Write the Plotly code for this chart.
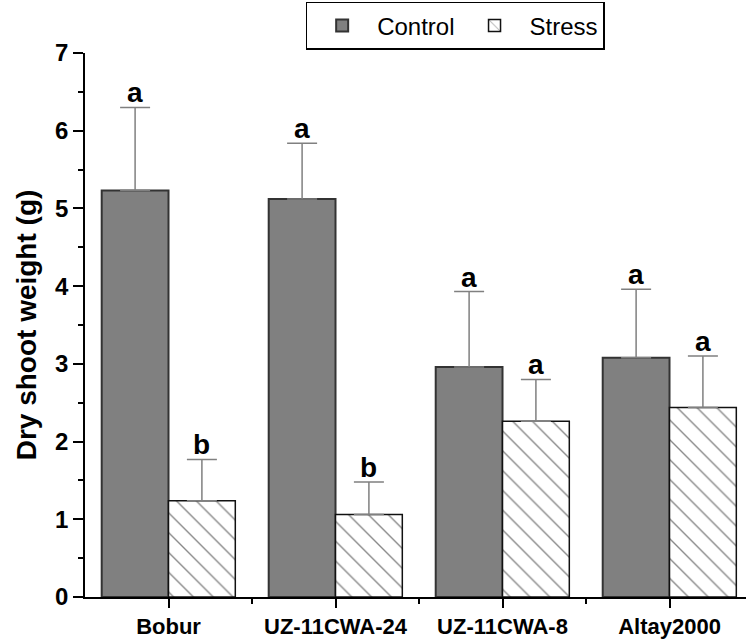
import plotly.graph_objects as go

genotypes = ["Bobur", "UZ-11CWA-24", "UZ-11CWA-8", "Altay2000"]
control_mean = [5.23, 5.12, 2.96, 3.08]
control_err = [1.07, 0.72, 0.97, 0.88]
stress_mean = [1.24, 1.06, 2.26, 2.44]
stress_err = [0.53, 0.42, 0.54, 0.66]
control_letters = ["a", "a", "a", "a"]
stress_letters = ["b", "b", "a", "a"]

xpos = list(range(len(genotypes)))
FONT = "Liberation Sans, Arial, sans-serif"

fig = go.Figure()
fig.add_trace(go.Bar(
    x=xpos, y=control_mean, name="Control",
    marker=dict(color="#808080", line=dict(color="#333333", width=2)),
    error_y=dict(type="data", array=control_err, arrayminus=[0]*4, symmetric=False,
                 color="#808080", thickness=1.5, width=15),
))
fig.add_trace(go.Bar(
    x=xpos, y=stress_mean, name="Stress",
    marker=dict(color="white", line=dict(color="#111111", width=1.5),
                pattern=dict(shape="\\", fgcolor="#111111", bgcolor="white", size=14, solidity=0.1)),
    error_y=dict(type="data", array=stress_err, arrayminus=[0]*4, symmetric=False,
                 color="#808080", thickness=1.5, width=15),
))

for i in xpos:
    fig.add_annotation(x=i - 0.2, y=control_mean[i] + control_err[i], text=control_letters[i],
                       showarrow=False, yanchor="bottom", yshift=-3,
                       font=dict(family=FONT, size=28, color="black", weight="bold"))
    fig.add_annotation(x=i + 0.2, y=stress_mean[i] + stress_err[i], text=stress_letters[i],
                       showarrow=False, yanchor="bottom", yshift=-3,
                       font=dict(family=FONT, size=28, color="black", weight="bold"))

fig.update_layout(
    width=746, height=639,
    margin=dict(l=85, r=0, t=53, b=42),
    plot_bgcolor="white", paper_bgcolor="white",
    barmode="group", bargap=0.2, bargroupgap=0,
    font=dict(family=FONT, color="black"),
    showlegend=True,
    legend=dict(orientation="h", x=0.56, xanchor="center", y=1.094, yanchor="top",
                bordercolor="black", borderwidth=1.5, bgcolor="white",
                font=dict(family=FONT, size=24, color="black"),
                itemwidth=60, traceorder="normal"),
    xaxis=dict(range=[-0.5, 3.458], tickmode="array", tickvals=xpos, ticktext=genotypes,
               showline=True, linecolor="black", linewidth=1.5,
               ticks="outside", ticklen=9, tickwidth=1.5, tickcolor="black",
               tickfont=dict(family=FONT, size=22, color="black", weight="bold"),
               showgrid=False, zeroline=False,
               minor=dict(tickmode="array", tickvals=[0.5, 1.5, 2.5], ticks="outside",
                          ticklen=5, tickwidth=1.5, tickcolor="black")),
    yaxis=dict(range=[0, 7], dtick=1, showline=True, linecolor="black", linewidth=1.5,
               ticks="outside", ticklen=10, tickwidth=1.5, tickcolor="black",
               tickfont=dict(family=FONT, size=24, color="black", weight="bold"),
               showgrid=False, zeroline=False,
               title=dict(text="Dry shoot weight (g)", standoff=10,
                          font=dict(family=FONT, size=28, color="black", weight="bold")),
               minor=dict(dtick=0.5, ticks="outside", ticklen=5, tickwidth=1.5, tickcolor="black")),
)

fig.write_html("out.html")
